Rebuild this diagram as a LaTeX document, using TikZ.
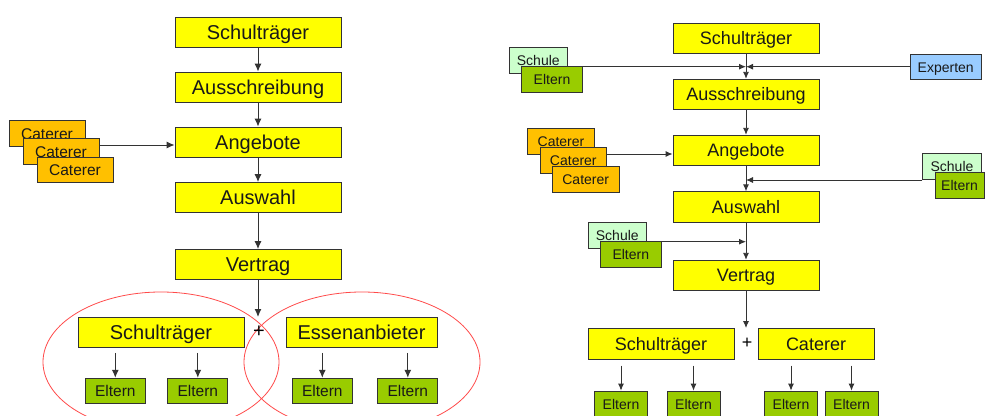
\documentclass[tikz,border=0pt]{standalone}
\usepackage{fontspec}
\setmainfont{Liberation Sans}
\usetikzlibrary{positioning}
\usetikzlibrary{arrows.meta}
\newcommand\lbig{\fontsize{20}{22}\selectfont}
\newcommand\lsmall{\fontsize{15.5}{17}\selectfont}
\newcommand\rbig{\fontsize{18}{20}\selectfont}
\newcommand\rsmall{\fontsize{14}{16}\selectfont}
\definecolor{boxyellow}{HTML}{FFFF00}
\definecolor{catorange}{HTML}{FFC000}
\definecolor{eltgreen}{HTML}{99CC00}
\definecolor{schulgreen}{HTML}{CCFFCC}
\definecolor{expblue}{HTML}{99CCFF}
\definecolor{ringred}{HTML}{FF4A4A}
\definecolor{edgegray}{HTML}{333333}
\tikzset{
  box/.style={draw=edgegray, line width=0.9pt, inner sep=0pt, text depth=0pt, text=black!90},
  lstage/.style={box, fill=boxyellow, font=\lbig, text height=14.3pt, minimum width=166pt, minimum height=30pt},
  lsm/.style={box, font=\lsmall, text height=11.1pt, minimum height=25.5pt},
  rstage/.style={box, fill=boxyellow, font=\rbig, text height=12.9pt, minimum width=146pt, minimum height=30.5pt},
  rsm/.style={box, font=\rsmall, text height=10pt, minimum height=25.8pt},
  arr/.style={-{Latex[length=8pt,width=7pt]}, draw=edgegray, line width=1pt},
  arrs/.style={-{Latex[length=7pt,width=6pt]}, draw=edgegray, line width=0.9pt},
  ring/.style={draw=ringred, line width=0.8pt}
}

\begin{document}
\begin{tikzpicture}[x=1pt, y=-1pt]
    \useasboundingbox (0,0) rectangle (987,415);
    \fill[white] (0,0) rectangle (987,415);

    % left diagram
    \draw[ring] (161,362) ellipse [x radius=118pt, y radius=70pt];
    \draw[ring] (362,362) ellipse [x radius=118pt, y radius=70pt];

    \node[lstage] (lst) at (258,32) {Schulträger};
    \node[lstage] (laus) at (258,87) {Ausschreibung};
    \node[lstage] (lang) at (258,142) {Angebote};
    \node[lstage] (lwahl) at (258,197.5) {Auswahl};
    \node[lstage] (lver) at (258,264.5) {Vertrag};
    \coordinate (lplus) at (258,317);
    \node[font=\lbig, inner sep=0pt] (lplustxt) at (259,332) {+};
    \node[lstage] (lst2) at (161,332) {Schulträger};
    \node[lstage, minimum width=151pt] (less) at (361.5,332) {Essenanbieter};
    \foreach \x/\n in {115.3/1, 197.8/2, 322.3/3, 407.8/4}
        \node[lsm, fill=eltgreen, minimum width=60pt] (lel\n) at (\x,391) {Eltern};
    \node[lsm, fill=catorange, minimum width=76pt] (lcat1) at (47,133.5) {Caterer};
    \node[lsm, fill=catorange, minimum width=76pt] (lcat2) at (61,151.5) {Caterer};
    \node[lsm, fill=catorange, minimum width=76pt] (lcat3) at (75,170) {Caterer};

    \draw[arr] (lst) -- (laus);
    \draw[arr] (laus) -- (lang);
    \draw[arr] (lang) -- (lwahl);
    \draw[arr] (lwahl) -- (lver);
    \draw[arr] (lver) -- (lplus);
    \coordinate (lin) at ([yshift=-3pt]lang.west);
    \draw[arr] (lcat2.east |- lin) -- (lin);
    \foreach \n in {1,...,4}
        \draw[arr] ([yshift=25pt]lel\n.north) -- (lel\n.north);

    % right diagram
    \node[rstage] (rst) at (746,38.5) {Schulträger};
    \node[rstage] (rau) at (746,94.5) {Ausschreibung};
    \node[rstage] (rang) at (746,150.5) {Angebote};
    \node[rstage] (rwahl) at (746,207) {Auswahl};
    \node[rstage] (rver) at (746,275.5) {Vertrag};
    \coordinate (rplus) at (746,328);
    \node[font=\rbig, inner sep=0pt] (rplustxt) at (747,343) {+};
    \node[rstage] (rst2) at (661,344) {Schulträger};
    \node[rstage, minimum width=116pt] (rcat) at (816,344) {Caterer};
    \foreach \x/\n in {621/1, 693.5/2, 791/3, 851.5/4}
        \node[rsm, fill=eltgreen, minimum width=53pt] (rel\n) at (\x,404) {Eltern};

    \node[rsm, fill=catorange, minimum width=66.7pt] (rcat1) at (561,141.7) {Caterer};
    \node[rsm, fill=catorange, minimum width=66.7pt] (rcat2) at (573.3,160.3) {Caterer};
    \node[rsm, fill=catorange, minimum width=66.7pt] (rcat3) at (585.7,179.2) {Caterer};

    \node[rsm, fill=schulgreen, minimum width=58pt] (rsch1) at (538.3,60.7) {Schule};
    \node[rsm, fill=eltgreen, minimum width=60.6pt] (rel5) at (552,79.5) {Eltern};
    \node[rsm, fill=expblue, minimum width=71.3pt] (rexp) at (945.7,67) {Experten};
    \node[rsm, fill=schulgreen, minimum width=58.6pt] (rsch2) at (952,166.5) {Schule};
    \node[rsm, fill=eltgreen, minimum width=49pt] (rel6) at (959.5,185.3) {Eltern};
    \node[rsm, fill=schulgreen, minimum width=58pt] (rsch3) at (617.3,235.5) {Schule};
    \node[rsm, fill=eltgreen, minimum width=61pt] (rel7) at (630.8,254.2) {Eltern};

    \coordinate (rj1) at (746,66.7);
    \coordinate (rj2) at (746,180);
    \coordinate (rj3) at (746,241.7);
    \draw[arrs] (rst) -- (rau);
    \draw[arrs] (rau) -- (rang);
    \draw[arrs] (rang) -- (rwahl);
    \draw[arrs] (rwahl) -- (rver);
    \draw[arrs] (rver) -- (rplus);
    \draw[arrs] (rsch1.east |- rj1) -- (rj1);
    \draw[arrs] (rexp.west |- rj1) -- (rj1);
    \draw[arrs] (rsch2.west |- rj2) -- (rj2);
    \draw[arrs] (rsch3.east |- rj3) -- (rj3);
    \coordinate (rin) at ([yshift=-3.5pt]rang.west);
    \draw[arrs] (rcat2.east |- rin) -- (rin);
    \foreach \n in {1,...,4}
        \draw[arrs] ([yshift=25pt]rel\n.north) -- (rel\n.north);
\end{tikzpicture}
\end{document}
